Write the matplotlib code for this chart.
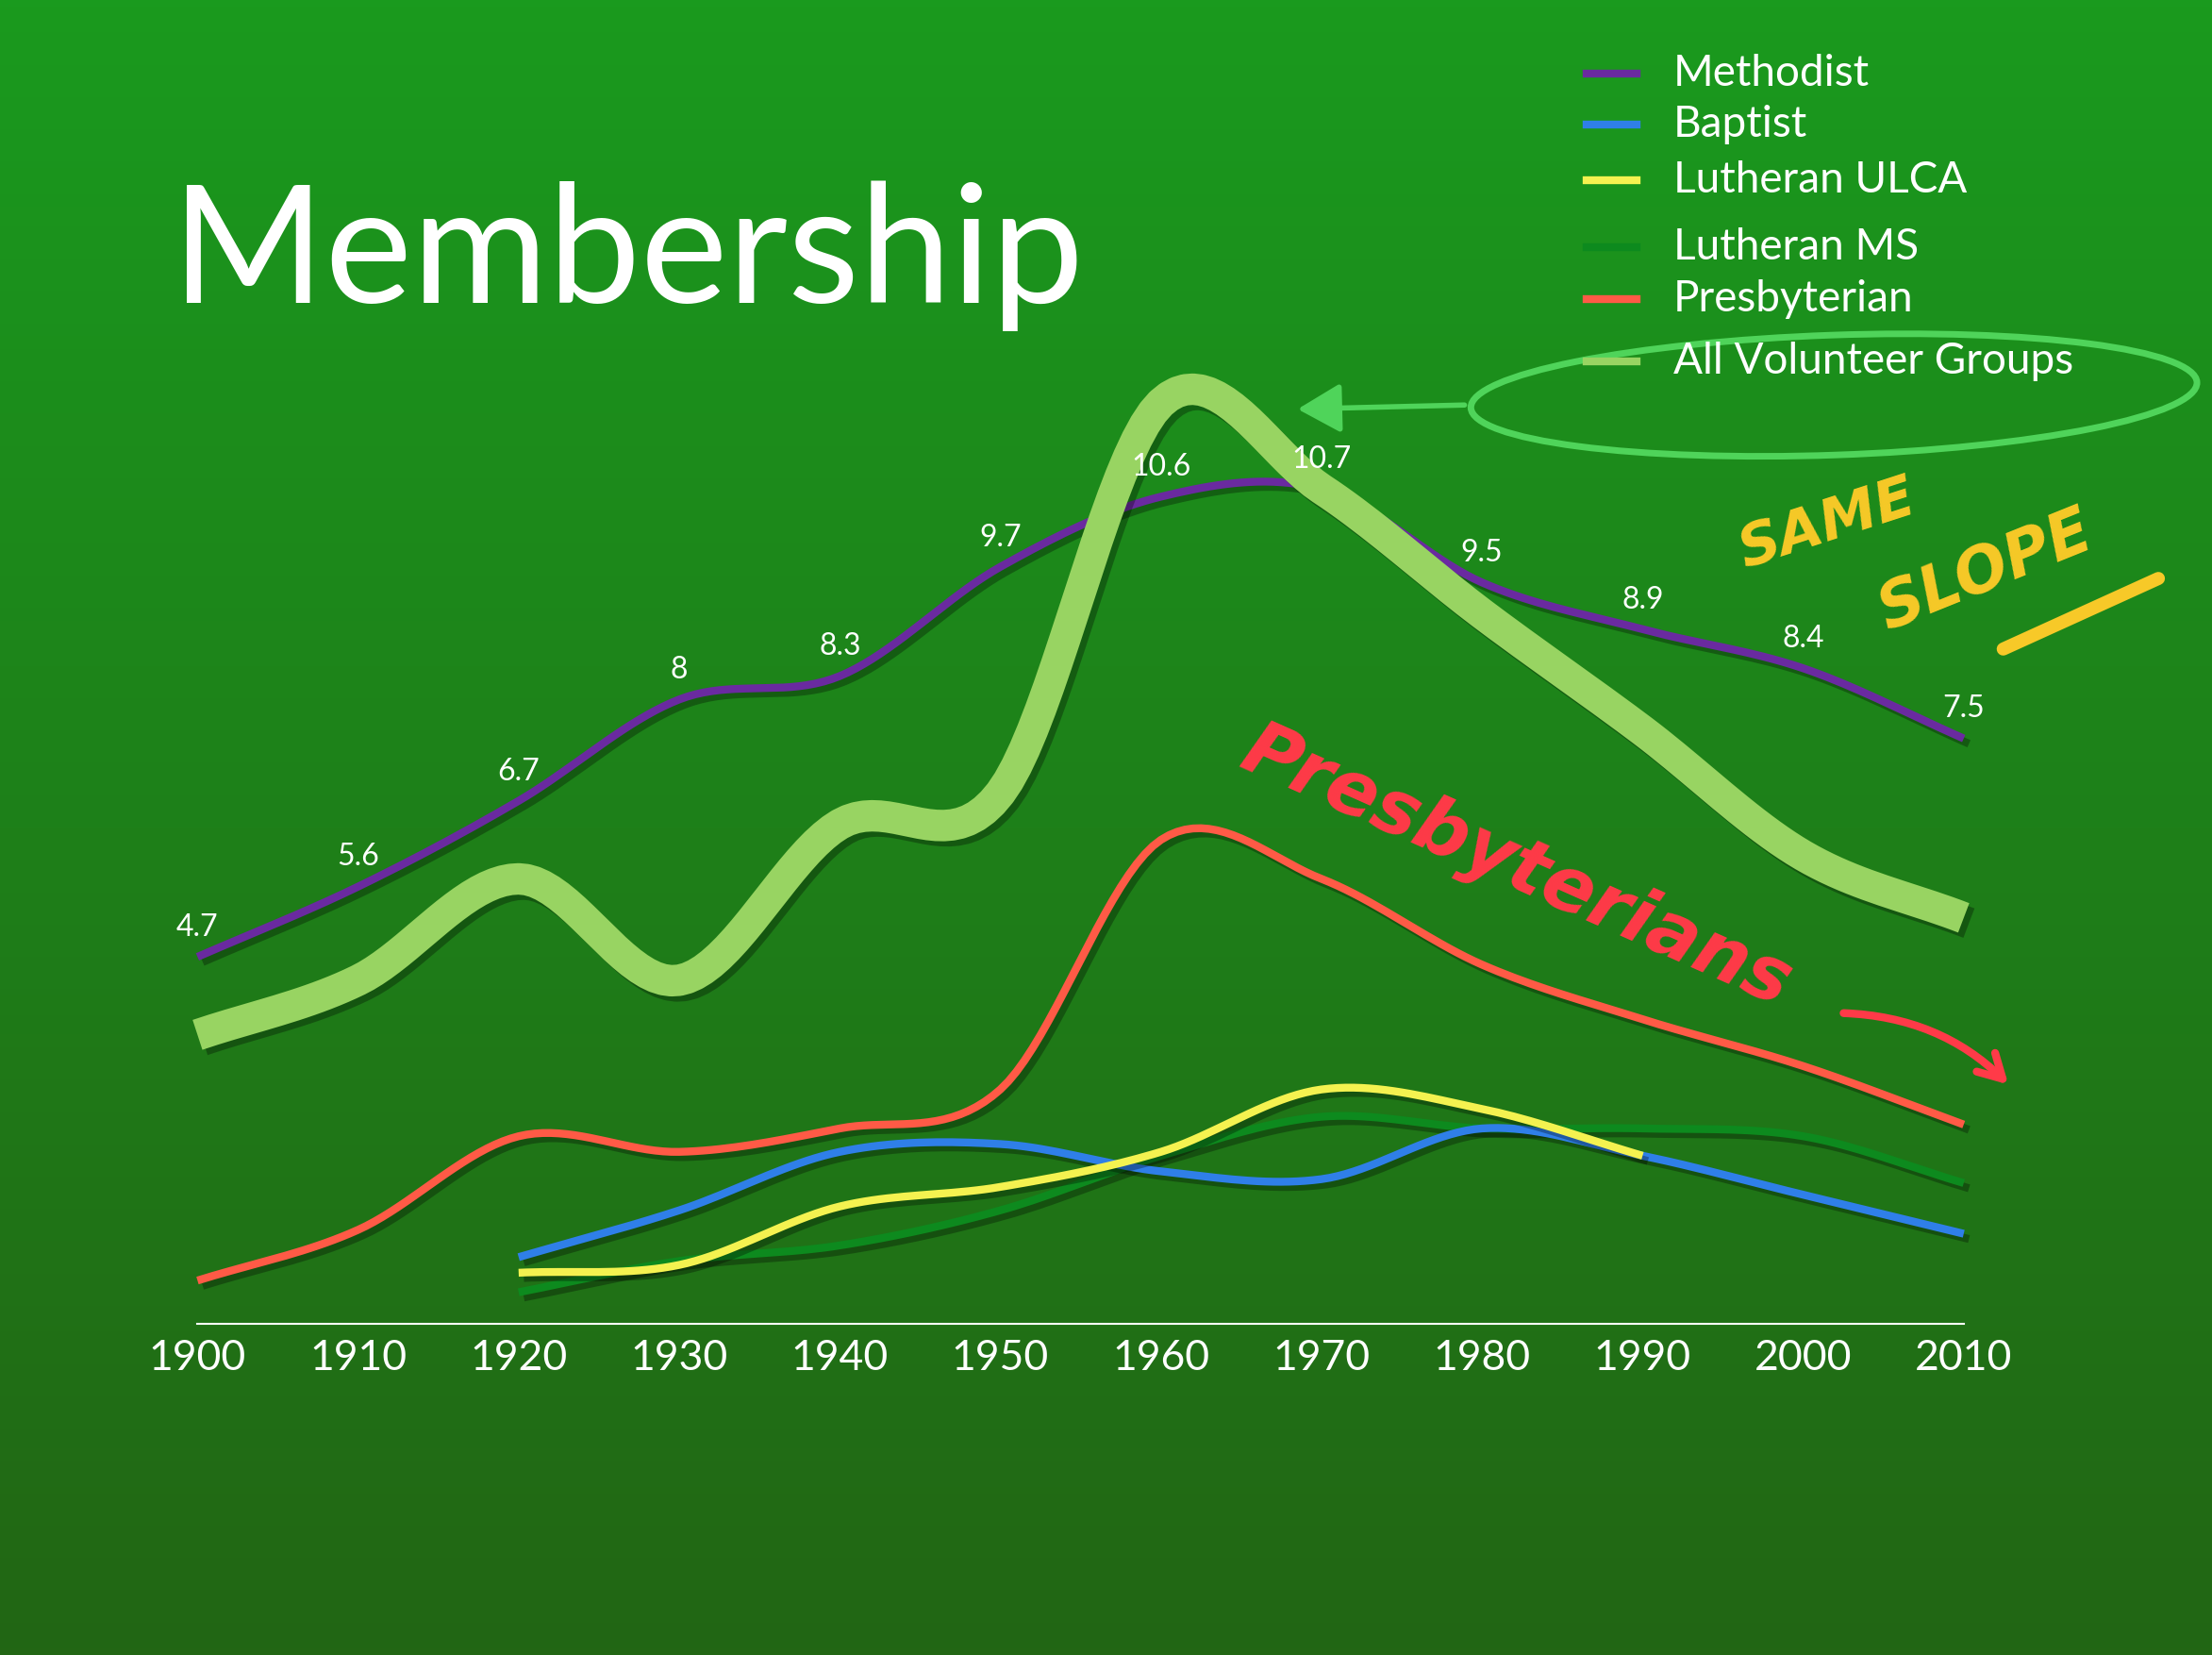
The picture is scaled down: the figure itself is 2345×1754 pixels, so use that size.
import numpy as np
import matplotlib.pyplot as plt
from matplotlib.patches import Ellipse, FancyArrowPatch
import matplotlib.patheffects as pe

years = [1900, 1910, 1920, 1930, 1940, 1950, 1960, 1970, 1980, 1990, 2000, 2010]
methodist = [4.7, 5.6, 6.7, 8.0, 8.3, 9.7, 10.6, 10.7, 9.5, 8.9, 8.4, 7.5]
all_groups = [3.7, 4.4, 5.7, 4.4, 6.4, 6.8, 11.8, 10.7, 9.1, 7.6, 6.0, 5.2]
presbyterian = [0.55, 1.2, 2.4, 2.2, 2.5, 3.0, 6.2, 5.7, 4.6, 3.9, 3.3, 2.55]
yrs_b = years[2:]
baptist = [0.85, 1.45, 2.2, 2.3, 1.95, 1.85, 2.5, 2.15, 1.65, 1.15]
yrs_u = years[2:10]
ulca = [0.65, 0.75, 1.5, 1.75, 2.2, 3.0, 2.75, 2.15]
lcms = [0.4, 0.8, 1.0, 1.45, 2.15, 2.65, 2.5, 2.5, 2.4, 1.8]
labels = ["4.7", "5.6", "6.7", "8", "8.3", "9.7", "10.6", "10.7", "9.5", "8.9", "8.4", "7.5"]
legend_names = ["Methodist", "Baptist", "Lutheran ULCA", "Lutheran MS", "Presbyterian", "All Volunteer Groups"]
legend_cols = ["#6a2aa0", "#2f7fe8", "#f4f250", "#0d8a1e", "#ff5a46", "#98d462"]

def smooth(x, y, n=20):
    # Catmull-Rom spline through the points, just for drawing
    x = np.asarray(x, float); y = np.asarray(y, float)
    px = np.concatenate([[2*x[0]-x[1]], x, [2*x[-1]-x[-2]]])
    py = np.concatenate([[2*y[0]-y[1]], y, [2*y[-1]-y[-2]]])
    xs, ys = [], []
    t = np.linspace(0, 1, n, endpoint=False)
    for i in range(1, len(px)-2):
        for p, out in ((px, xs), (py, ys)):
            p0, p1, p2, p3 = p[i-1:i+3]
            out.extend(0.5*(2*p1 + (-p0+p2)*t + (2*p0-5*p1+4*p2-p3)*t**2 + (-p0+3*p1-3*p2+p3)*t**3))
    xs.append(x[-1]); ys.append(y[-1])
    return xs, ys

W, H = 1568, 1173
fig = plt.figure(figsize=(23.45, 17.54), dpi=100)
bg = fig.add_axes([0, 0, 1, 1])
grad = np.linspace(0, 1, 256)[:, None]
top = np.array([0x1a, 0x9a, 0x1e]) / 255
bot = np.array([0x22, 0x66, 0x14]) / 255
img = top + (bot - top) * grad[:, :, None]
bg.imshow(np.repeat(img, 2, axis=1), aspect="auto", extent=[0, W, H, 0])
bg.set_xlim(0, W); bg.set_ylim(H, 0); bg.axis("off")

ax = fig.add_axes([140/W, 1-938/H, (1392-140)/W, (938-247)/H])
ax.patch.set_alpha(0)
ax.set_xlim(1900, 2010); ax.set_ylim(0, 12.5)
for s in ax.spines.values():
    s.set_visible(False)
ax.set_yticks([])
ax.set_xticks(years)
ax.tick_params(axis="x", length=0, pad=12, labelsize=32, labelcolor="white")
for lb in ax.get_xticklabels():
    lb.set_fontfamily("Lato")
ax.axhline(0, color="white", lw=1.5, clip_on=False)
shadow = [pe.SimpleLineShadow(offset=(4, -4), alpha=0.3), pe.Normal()]

def draw(x, y, c, lw):
    xs, ys = smooth(x, y)
    ax.plot(xs, ys, color=c, lw=lw, clip_on=False, solid_capstyle="butt", path_effects=shadow)

draw(years, presbyterian, legend_cols[4], 6)
draw(yrs_b, lcms, legend_cols[3], 6)
draw(yrs_b, baptist, legend_cols[1], 6)
draw(yrs_u, ulca, legend_cols[2], 6)
draw(years, methodist, legend_cols[0], 6)
for x, y, t in zip(years, methodist, labels):
    ax.annotate(t, (x, y), xytext=(0, 16), textcoords="offset points", ha="center",
                color="white", fontsize=23, fontfamily="Lato")
draw(years, all_groups, legend_cols[5], 24)

fig.text(122/W, 1-215/H, "Membership", color="white", fontsize=126, fontfamily="Lato")
for i, (n, c) in enumerate(zip(legend_names, legend_cols)):
    yy = [52, 88, 128, 175, 212, 256][i]
    bg.plot([1125, 1160], [yy, yy], color=c, lw=6)
    bg.text(1186, yy, n, color="white", fontsize=33, fontfamily="Lato", va="center")

# hand-drawn annotations
hand = "DejaVu Sans"
bg.add_patch(Ellipse((1300, 280), 515, 85, angle=-2, fill=False, color="#4fd45a", lw=5))
bg.add_patch(FancyArrowPatch((1040, 287), (918, 290), arrowstyle="-|>,head_length=14,head_width=8",
                             color="#4fd45a", lw=4, mutation_scale=2))
bg.text(1295, 372, "SAME", color="#f7c928", fontsize=44, rotation=18, ha="center", va="center",
        fontfamily=hand, fontweight="bold", fontstyle="italic")
bg.text(1408, 405, "SLOPE", color="#f7c928", fontsize=48, rotation=22, ha="center", va="center",
        fontfamily=hand, fontweight="bold", fontstyle="italic")
bg.plot([1420, 1530], [460, 410], color="#f7c928", lw=10, solid_capstyle="round")
bg.text(1075, 615, "Presbyterians", color="#ff3a48", fontsize=58, rotation=-24, ha="center",
        va="center", fontfamily=hand, fontweight="bold", fontstyle="italic")
bg.add_patch(FancyArrowPatch((1305, 718), (1425, 770), connectionstyle="arc3,rad=-0.2",
                             arrowstyle="->,head_length=18,head_width=10", color="#ff3a48", lw=6))

fig.savefig("out.png", dpi=100)
